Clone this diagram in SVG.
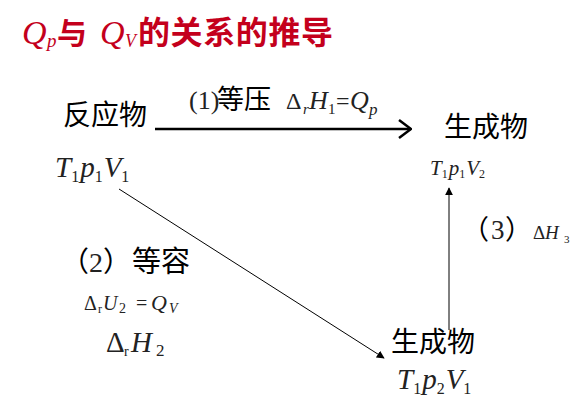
<svg xmlns="http://www.w3.org/2000/svg" width="580" height="406" viewBox="0 0 580 406">
<style>
.cn{font-family:"Noto Sans CJK SC","Noto Sans",sans-serif;fill:#000}
.sf{font-family:"Liberation Serif","DejaVu Serif",serif;fill:#222}
.it{font-style:italic}
.up{font-style:normal}
.ttl{fill:#c4001c}
.ln{stroke:#000;fill:none}
</style>
<defs>
<marker id="ah" viewBox="0 0 10 10" refX="9" refY="5" markerWidth="8" markerHeight="8" orient="auto" markerUnits="userSpaceOnUse">
<path d="M0,0 L10,5 L0,10 z" fill="#000"/>
</marker>
<marker id="chev" viewBox="0 0 14 20" refX="13" refY="10" markerWidth="14" markerHeight="20" orient="auto" markerUnits="userSpaceOnUse">
<path d="M1,1 L13,10 L1,19" fill="none" stroke="#000" stroke-width="2.5"/>
</marker>
</defs>
<g id="title">
<text class="sf it ttl" x="22" y="44" font-size="34">Q</text>
<text class="sf it ttl" x="47" y="47" font-size="19">p</text>
<text class="cn ttl" x="57" y="44" font-size="30" font-weight="bold">与</text>
<text class="sf it ttl" x="100" y="44" font-size="34">Q</text>
<text class="sf it ttl" x="125" y="47" font-size="18">V</text>
<text class="cn ttl" x="138" y="44" font-size="32" font-weight="bold" textLength="195">的关系的推导</text>
</g>
<g id="connectors">
<line class="ln" x1="155" y1="129" x2="411" y2="129" stroke-width="2.5" marker-end="url(#chev)"/>
<line class="ln" x1="119" y1="189" x2="384" y2="358" stroke-width="1" marker-end="url(#ah)"/>
<line class="ln" x1="449" y1="330" x2="449" y2="188" stroke-width="1" marker-end="url(#ah)"/>
<text class="sf" y="109" font-size="26"><tspan x="189">(1)</tspan><tspan class="cn" font-size="27" x="217">等压</tspan><tspan font-size="24" x="286">Δ</tspan><tspan class="it" font-size="15" x="303" dy="5">r</tspan><tspan class="it" x="309" dy="-5">H</tspan><tspan font-size="15" x="328" dy="5">1</tspan><tspan font-size="24" x="336" dy="-5">=</tspan><tspan class="it" x="350">Q</tspan><tspan class="it" font-size="17" x="369" dy="6">p</tspan></text>
<text y="272" font-size="28"><tspan class="cn" x="61">（</tspan><tspan class="sf" x="89">2</tspan><tspan class="cn" x="103">）</tspan><tspan class="cn" font-size="29" x="132">等容</tspan></text>
<text class="sf" y="310" font-size="20"><tspan x="84">Δ</tspan><tspan font-size="12" x="98" dy="3">r</tspan><tspan class="it" x="103" dy="-3">U</tspan><tspan font-size="14" x="119" dy="3">2</tspan><tspan x="136" dy="-3">=</tspan><tspan class="it" font-size="22" x="151">Q</tspan><tspan class="it" font-size="14" x="169" dy="3">V</tspan></text>
<text class="sf" y="352" font-size="29"><tspan x="106">Δ</tspan><tspan font-size="14" x="124" dy="4">r</tspan><tspan class="it" x="131" dy="-4">H</tspan><tspan font-size="17" x="156" dy="4">2</tspan></text>
<text y="239" font-size="27"><tspan class="cn" x="462">（</tspan><tspan class="sf" x="491">3</tspan><tspan class="cn" x="505">）</tspan><tspan class="sf" font-size="19" x="533">Δ</tspan><tspan class="sf it" font-size="19" x="545">H</tspan><tspan class="sf" font-size="11" x="564" dy="4">3</tspan></text>
</g>
<g id="reactant">
<text class="cn" x="63" y="125" font-size="28">反应物</text>
<text class="sf it" x="55" y="177" font-size="29">T<tspan class="up" font-size="16" dy="5">1</tspan><tspan dx="1" dy="-5">p</tspan><tspan class="up" font-size="16" dy="5">1</tspan><tspan dx="1" dy="-5">V</tspan><tspan class="up" font-size="16" dy="5">1</tspan></text>
</g>
<g id="product1">
<text class="cn" x="444" y="137" font-size="28">生成物</text>
<text class="sf it" x="430" y="175" font-size="21">T<tspan class="up" font-size="12" dy="3">1</tspan><tspan dx="1" dy="-3">p</tspan><tspan class="up" font-size="12" dy="3">1</tspan><tspan dx="1" dy="-3">V</tspan><tspan class="up" font-size="12" dy="3">2</tspan></text>
</g>
<g id="product2">
<text class="cn" x="391" y="352" font-size="28">生成物</text>
<text class="sf it" x="397" y="389" font-size="29">T<tspan class="up" font-size="16" dy="5">1</tspan><tspan dx="1" dy="-5">p</tspan><tspan class="up" font-size="16" dy="5">2</tspan><tspan dx="1" dy="-5">V</tspan><tspan class="up" font-size="16" dy="5">1</tspan></text>
</g>
</svg>
